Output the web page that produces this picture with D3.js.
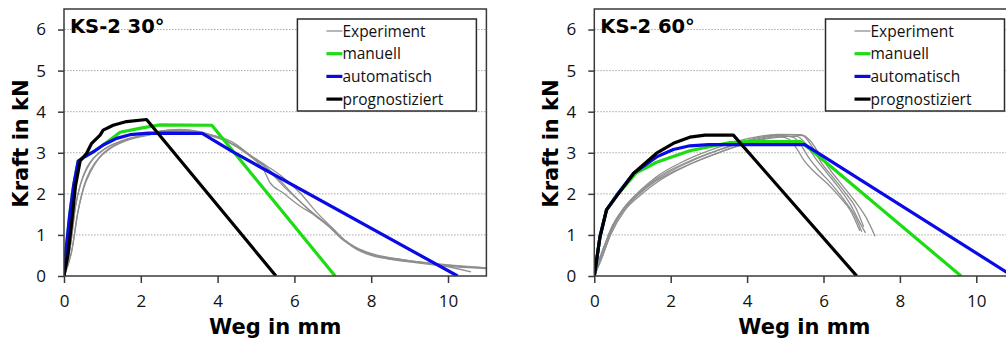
<!DOCTYPE html>
<html>
<head>
<meta charset="utf-8">
<script src="https://cdn.jsdelivr.net/npm/d3@7"></script>
<style>
  body { margin: 0; background: #fff; }
  svg { display: block; font-family: "Open Sans", "DejaVu Sans", sans-serif; }
</style>
</head>
<body>
<svg id="chart"></svg>
<script>
var width = 1006, height = 338;

// tick values
var xTicks = [0, 2, 4, 6, 8, 10];
var yTicks = [0, 1, 2, 3, 4, 5, 6];
var legendLabels = ["Experiment", "manuell", "automatisch", "prognostiziert"];

// KS-2 30°  (Weg in mm, Kraft in kN)
var exp30a = [[0,0],[0.16,0.7],[0.29,1.65],[0.42,2.2],[0.59,2.6],[0.76,2.85],[1.0,3.05],[1.2,3.17],[1.63,3.33],[2.15,3.45],[2.7,3.55],[3.2,3.55],[3.6,3.48],[4.06,3.38],[4.41,3.25],[4.84,2.95],[5.28,2.68],[5.71,2.4],[6.15,2.02],[6.58,1.55],[7.01,1.15],[7.3,0.88],[7.6,0.7],[8.0,0.55],[8.8,0.4],[9.7,0.3],[11,0.2]];
var exp30b = [[0,0],[0.2,0.6],[0.35,1.5],[0.5,2.1],[0.7,2.55],[0.9,2.85],[1.2,3.1],[1.63,3.3],[2.15,3.42],[2.7,3.52],[3.3,3.52],[3.8,3.42],[4.2,3.3],[4.6,3.1],[5.0,2.8],[5.19,2.6],[5.36,2.28],[5.71,2.02],[6.15,1.7],[6.58,1.45],[7.1,1.05],[7.5,0.72],[8.0,0.5],[8.8,0.38],[9.7,0.28],[10.6,0.1]];
var exp30c = [[0,0],[0.18,0.8],[0.3,1.7],[0.45,2.3],[0.6,2.65],[0.8,2.9],[1.1,3.12],[1.6,3.32],[2.2,3.45],[2.8,3.55],[3.4,3.5],[3.9,3.4],[4.3,3.25],[4.7,3.02],[5.2,2.7],[5.6,2.35],[6.0,1.95],[6.4,1.6],[6.8,1.3],[7.2,0.95],[7.6,0.68],[8.0,0.52],[8.8,0.4],[9.6,0.3],[10.5,0.22],[11,0.2]];
var exp30d = [[0,0],[0.22,0.7],[0.37,1.6],[0.52,2.2],[0.7,2.6],[0.95,2.92],[1.3,3.18],[1.8,3.36],[2.4,3.5],[3.0,3.57],[3.5,3.52],[4.0,3.38],[4.5,3.15],[4.9,2.88],[5.3,2.6],[5.7,2.2],[6.1,1.85],[6.5,1.5],[6.9,1.2],[7.3,0.85],[7.8,0.6],[8.3,0.45],[9.2,0.32],[10.2,0.22],[11,0.18]];
var manuell30 = [[0,0],[0.05,0.6],[0.15,1.5],[0.25,2.2],[0.37,2.8],[0.5,2.88],[0.76,3.02],[1.02,3.19],[1.46,3.5],[2.0,3.6],[2.5,3.68],[3.85,3.67],[7.06,0]];
var auto30 = [[0,0],[0.05,0.6],[0.15,1.5],[0.25,2.2],[0.37,2.8],[0.5,2.88],[0.76,3.02],[1.02,3.19],[1.37,3.35],[1.72,3.44],[2.2,3.48],[3.6,3.47],[3.9,3.3],[4.4,3.02],[10.25,0]];
var prog30 = [[0,0],[0.1,0.5],[0.2,1.3],[0.3,2.2],[0.42,2.8],[0.59,2.99],[0.72,3.23],[0.94,3.43],[1.02,3.55],[1.28,3.67],[1.63,3.76],[2.15,3.81],[5.52,0]];

// KS-2 60°
var exp60a = [[0,0],[0.15,0.42],[0.41,1.08],[0.77,1.65],[1.2,2.05],[1.63,2.38],[2.5,2.8],[3.38,3.1],[4.16,3.32],[4.86,3.42],[5.2,3.38],[5.4,3.2],[5.6,2.9],[5.9,2.55],[6.2,2.25],[6.5,1.9],[6.8,1.5],[7.0,1.08]];
var exp60b = [[0,0],[0.18,0.4],[0.45,1.05],[0.8,1.6],[1.25,2.0],[1.7,2.32],[2.5,2.72],[3.4,3.05],[4.2,3.3],[4.9,3.4],[5.3,3.4],[5.55,3.2],[5.8,2.85],[6.1,2.5],[6.4,2.15],[6.7,1.75],[6.95,1.3],[7.1,1.05]];
var exp60c = [[0,0],[0.2,0.45],[0.45,1.1],[0.8,1.68],[1.2,2.08],[1.6,2.4],[2.4,2.82],[3.3,3.15],[4.1,3.36],[4.8,3.45],[5.4,3.44],[5.65,3.3],[5.9,2.95],[6.2,2.55],[6.5,2.2],[6.8,1.85],[7.1,1.45],[7.35,0.97]];
var exp60d = [[0,0],[0.12,0.38],[0.38,1.0],[0.75,1.58],[1.15,1.97],[1.6,2.3],[2.5,2.72],[3.4,3.05],[4.2,3.28],[4.9,3.38],[5.1,3.33],[5.3,3.1],[5.5,2.8],[5.8,2.5],[6.1,2.25],[6.4,1.95],[6.7,1.6],[6.95,1.1]];
var exp60e = [[0,0],[0.17,0.45],[0.42,1.12],[0.78,1.66],[1.2,2.04],[1.65,2.36],[2.5,2.78],[3.4,3.12],[4.2,3.35],[4.9,3.44],[5.45,3.42],[5.7,3.15],[5.95,2.75],[6.25,2.4],[6.55,2.05],[6.85,1.65],[7.05,1.2]];
var manuell60 = [[0,0],[0.15,0.96],[0.32,1.61],[0.59,1.97],[1.11,2.52],[1.63,2.77],[2.5,3.05],[3.55,3.25],[4.0,3.27],[5.4,3.27],[5.7,3.05],[9.6,0]];
var auto60 = [[0,0],[0.15,0.96],[0.32,1.61],[0.59,1.97],[1.03,2.5],[1.63,2.9],[2.07,3.08],[2.5,3.17],[3.0,3.2],[5.51,3.2],[10.95,0]];
var prog60 = [[0,0],[0.15,0.96],[0.32,1.61],[0.59,1.95],[1.03,2.5],[1.63,2.99],[2.07,3.23],[2.5,3.38],[2.9,3.43],[3.64,3.43],[6.87,0]];

var colGreen = "#1edc14", colBlue = "#0a0ae6", colBlack = "#000", colGray = "#8f8f8f";
var boldFont = "'DejaVu Sans', sans-serif";

var svg = d3.select("#chart")
    .attr("width", width)
    .attr("height", height);

function drawPanel(id, left, unitX, title, exps, manuell, auto, prog) {
    var top = 9, bottom = 276;
    var x = d3.scaleLinear().domain([0, 11]).range([left, left + 11 * unitX]);
    var y = d3.scaleLinear().domain([0, 6.5]).range([bottom, top]);
    var right = x(11);

    var g = svg.append("g");

    svg.append("clipPath").attr("id", "clip" + id)
        .append("rect")
        .attr("x", left).attr("y", top)
        .attr("width", right - left).attr("height", bottom - top);

    // grid
    g.selectAll(".grid")
        .data(yTicks.slice(1))
        .enter()
        .append("line")
        .attr("x1", left).attr("x2", right)
        .attr("y1", function (d) { return y(d); })
        .attr("y2", function (d) { return y(d); })
        .attr("stroke", "#a8a8a8")
        .attr("stroke-width", 1)
        .attr("stroke-dasharray", "1.5,1.5");

    var line = d3.line()
        .x(function (d) { return x(d[0]); })
        .y(function (d) { return y(d[1]); });
    var smooth = d3.line()
        .curve(d3.curveMonotoneX)
        .x(function (d) { return x(d[0]); })
        .y(function (d) { return y(d[1]); });

    var plot = g.append("g").attr("clip-path", "url(#clip" + id + ")");

    exps.forEach(function (e) {
        plot.append("path").attr("d", smooth(e))
            .attr("fill", "none").attr("stroke", colGray).attr("stroke-width", 1.3);
    });
    plot.append("path").attr("d", line(manuell))
        .attr("fill", "none").attr("stroke", colGreen).attr("stroke-width", 3.2)
        .attr("stroke-linejoin", "round");
    plot.append("path").attr("d", line(auto))
        .attr("fill", "none").attr("stroke", colBlue).attr("stroke-width", 3.2)
        .attr("stroke-linejoin", "round");
    plot.append("path").attr("d", line(prog))
        .attr("fill", "none").attr("stroke", colBlack).attr("stroke-width", 3.2)
        .attr("stroke-linejoin", "round");

    // frame
    g.append("rect")
        .attr("x", left).attr("y", top)
        .attr("width", right - left).attr("height", bottom - top)
        .attr("fill", "none").attr("stroke", "#3a3a3a").attr("stroke-width", 1.5);

    var xAxis = d3.axisBottom(x).tickValues(xTicks).tickSize(7).tickPadding(12)
        .tickFormat(d3.format("d"));
    var yAxis = d3.axisLeft(y).tickValues(yTicks).tickSize(6).tickPadding(12)
        .tickFormat(d3.format("d"));

    var gx = g.append("g").attr("transform", "translate(0," + bottom + ")").call(xAxis);
    var gy = g.append("g").attr("transform", "translate(" + left + ",0)").call(yAxis);
    [gx, gy].forEach(function (a) {
        a.select(".domain").remove();
        a.selectAll("line").attr("stroke", "#3a3a3a").attr("stroke-width", 1.5);
        a.selectAll("text").attr("font-size", 17).attr("fill", "#111")
            .attr("font-family", "'Open Sans', sans-serif");
    });

    // titles
    g.append("text")
        .attr("x", left + 6).attr("y", 33)
        .attr("font-family", boldFont)
        .attr("font-size", 19.5).attr("font-weight", "bold")
        .text(title);

    g.append("text")
        .attr("x", (left + right) / 2).attr("y", 334)
        .attr("text-anchor", "middle")
        .attr("font-family", boldFont)
        .attr("font-size", 21).attr("font-weight", "bold")
        .text("Weg in mm");

    g.append("text")
        .attr("transform", "translate(" + (left - 36) + "," + ((top + bottom) / 2 + 1) + ") rotate(-90)")
        .attr("text-anchor", "middle")
        .attr("font-family", boldFont)
        .attr("font-size", 21).attr("font-weight", "bold")
        .text("Kraft in kN");

    // legend
    var lx = right - 189, ly = 19;
    var leg = g.append("g").attr("transform", "translate(" + lx + "," + ly + ")");
    leg.append("rect")
        .attr("width", 179).attr("height", 92)
        .attr("fill", "#fff").attr("stroke", "#2a2a2a").attr("stroke-width", 1.5);
    var legColors = [colGray, colGreen, colBlue, colBlack];
    var legWidths = [1.3, 3.2, 3.2, 3.2];
    legendLabels.forEach(function (lab, i) {
        var yy = 12 + i * 22.7;
        leg.append("line")
            .attr("x1", 29).attr("x2", 45)
            .attr("y1", yy).attr("y2", yy)
            .attr("stroke", legColors[i]).attr("stroke-width", legWidths[i]);
        leg.append("text")
            .attr("x", 45).attr("y", yy + 5.5)
            .attr("font-size", 15.5).attr("fill", "#111")
            .text(lab);
    });
}

drawPanel("a", 64, 38.4, "KS-2 30°", [exp30a, exp30b, exp30c, exp30d], manuell30, auto30, prog30);
drawPanel("b", 594.3, 38.2, "KS-2 60°", [exp60a, exp60b, exp60c, exp60d, exp60e], manuell60, auto60, prog60);
</script>
</body>
</html>
